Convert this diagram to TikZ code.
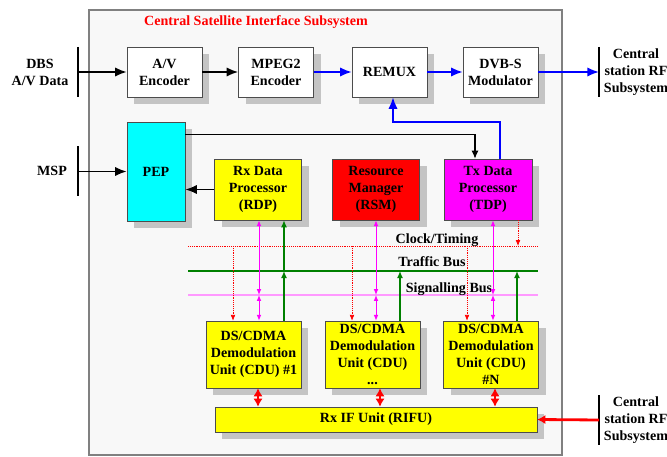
\documentclass[tikz,border=0pt]{standalone}
\usepackage{fontspec}
\setmainfont{Liberation Serif}
\usetikzlibrary{arrows.meta,calc,shadows}
\definecolor{bgbox}{HTML}{F8F8F8}
\definecolor{shade}{HTML}{C4C4C4}
\definecolor{pinkbus}{HTML}{FF99FF}
\definecolor{trfgreen}{HTML}{008000}
\definecolor{pepcyan}{HTML}{00FFFF}
\definecolor{tdpmag}{HTML}{FF00FF}
\definecolor{boxyellow}{HTML}{FFFF00}
\definecolor{rsmred}{HTML}{FF0000}
\tikzset{
  box/.style={draw=gray!60!black, fill=white, align=center, inner sep=1pt,
    drop shadow={shadow xshift=0.22cm, shadow yshift=-0.22cm, fill=shade, opacity=1}},
  topbox/.style={box, minimum width=2.25cm, minimum height=1.5cm},
  procbox/.style={box, minimum width=2.6cm, minimum height=1.83cm},
  cdubox/.style={box, fill=boxyellow, minimum width=2.85cm, minimum height=2.01cm},
  bar/.style={line width=2.4pt},
  blkarr/.style={line width=1.6pt, -{Latex[length=10pt,width=8pt]}},
  bluearr/.style={blue, line width=1.6pt, -{Latex[length=10pt,width=8pt]}},
  rfarr/.style={rsmred, line width=2.4pt, >={Latex[length=7pt,width=8pt]}},
  sigarr/.style={tdpmag, line width=0.8pt, {Latex[length=5pt,width=4pt]}-{Latex[length=5pt,width=4pt]}},
  trfarr/.style={trfgreen, line width=1pt, -{Latex[length=6pt,width=5pt]}},
  clkarr/.style={rsmred, densely dotted, line width=0.6pt, -{Latex[length=5pt,width=4pt]}},
}
\begin{document}
\begin{tikzpicture}[x=0.03cm, y=-0.03cm, font=\fontsize{12}{14.5}\selectfont\bfseries]
\useasboundingbox (0,0) rectangle (667,457);
\draw[gray, line width=1pt, fill=bgbox] (89,10) rectangle (562,455);
\node[rsmred] (title) at (256,22) {Central Satellite Interface Subsystem};

\node[topbox] (av) at (164.5,72) {A/V\\Encoder};
\node[topbox] (mpeg) at (276,72) {MPEG2\\Encoder};
\node[topbox] (remux) at (389.5,72) {REMUX};
\node[topbox] (dvb) at (500.5,72) {DVB-S\\Modulator};
\node[box, fill=pepcyan, minimum width=1.74cm, minimum height=2.97cm] (pep) at (156,171.5) {PEP};
\node[procbox, fill=boxyellow] (rdp) at (258,189.5) {Rx Data\\Processor\\(RDP)};
\node[procbox, fill=rsmred] (rsm) at (376,189.5) {Resource\\Manager\\(RSM)};
\node[procbox, fill=tdpmag, minimum width=2.64cm] (tdp) at (488,189.5) {Tx Data\\Processor\\(TDP)};
\node[cdubox] (cdu1) at (253.5,354.5) {DS/CDMA\\Demodulation\\Unit (CDU) \#1};
\node[cdubox] (cdu2) at (372.5,354.5) {DS/CDMA\\Demodulation\\Unit (CDU)\\...};
\node[cdubox] (cdun) at (491,354.5) {DS/CDMA\\Demodulation\\Unit (CDU)\\\#N};
\node[box, fill=boxyellow, minimum width=9.66cm, minimum height=0.75cm] (rifu) at (376,419.5) {Rx IF Unit (RIFU)};

\node[align=center] (dbslbl) at (40,72) {DBS\\A/V Data};
\node (msplbl) at (52,171) {MSP};
\node[align=center] (rfolbl) at (636,72) {Central\\station RF\\Subsystem};
\node[align=center] (rfilbl) at (636,420) {Central\\station RF\\Subsystem};
\coordinate (dbs) at (78,72);
\coordinate (msp) at (78,171.5);
\coordinate (rfo) at (599,72);
\coordinate (rfi) at (599,420);
\foreach \c in {dbs,msp,rfo,rfi} \draw[bar] ($(\c)+(0,-25)$) -- ($(\c)+(0,25)$);

\coordinate (clkW) at (188,246); \coordinate (clkE) at (538,246);
\coordinate (trfW) at (188,271); \coordinate (trfE) at (538,271);
\coordinate (sigW) at (188,295); \coordinate (sigE) at (538,295);
\draw[rsmred, densely dotted, line width=0.6pt] (clkW) -- (clkE);
\draw[trfgreen, line width=1pt] (trfW) -- (trfE);
\draw[pinkbus, line width=1.6pt] (sigW) -- (sigE);
\node[anchor=base] (clklbl) at (437,244) {Clock/Timing};
\node[anchor=base] (trflbl) at (432,267) {Traffic Bus};
\node[anchor=base] (siglbl) at (449,293) {Signalling Bus};

\draw[blkarr] (dbs) -- (av.west);
\draw[blkarr] (av.east) -- (mpeg.west);
\draw[bluearr] (mpeg.east) -- (remux.west);
\draw[bluearr] (remux.east) -- (dvb.west);
\draw[bluearr] (dvb.east) -- (rfo);
\draw[blkarr] (msp) -- (pep.west);
\draw[blkarr] (rdp.west) -- (rdp.west -| pep.east);
\draw[line width=1pt, -{Latex[length=7pt,width=6pt]}] ($(pep.north east)+(0,13)$) -| ($(tdp.north)+(-13,0)$);
\draw[bluearr] ($(tdp.north)+(12,0)$) |- ($(remux.south)+(3.5,25)$) -- ($(remux.south)+(3.5,0)$);

\foreach \up/\dn/\x in {rdp/cdu1/259, rsm/cdu2/376, tdp/cdun/493} {
  \draw[sigarr] (\x,0 |- \up.south) -- (\x,0 |- sigW);
  \draw[sigarr] (\x,0 |- sigW) -- (\x,0 |- \dn.north);
}
\foreach \dn/\x in {cdu1/233, cdu2/352, cdun/467} \draw[clkarr] (\x,0 |- clkW) -- (\x,0 |- \dn.north);
\draw[clkarr] (518,0 |- tdp.south) -- (518,0 |- clkW);
\foreach \dn/\x in {cdu1/284, cdu2/400, cdun/517} \draw[trfarr] (\x,0 |- \dn.north) -- (\x,0 |- trfW);
\draw[trfarr] (284,0 |- trfW) -- (284,0 |- rdp.south);
\foreach \dn/\x in {cdu1/258, cdu2/380, cdun/495} \draw[rfarr, <->] (\x,0 |- rifu.north) -- (\x,0 |- \dn.south);
\draw[rfarr, ->] (rfi) -- (rifu.east);
\end{tikzpicture}
\end{document}
